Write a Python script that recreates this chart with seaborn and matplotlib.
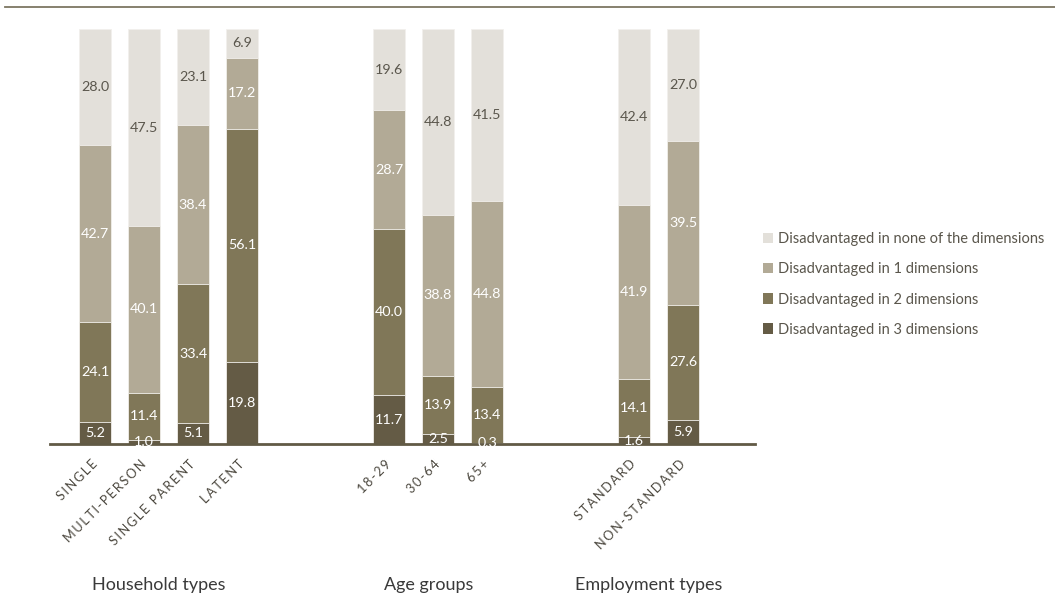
import matplotlib
matplotlib.use("Agg")
import matplotlib.pyplot as plt
import matplotlib.transforms as mtransforms
from matplotlib.patches import Patch
from matplotlib.lines import Line2D
import numpy as np
import seaborn as sns

# Bar categories and their slot positions on the x axis (gaps separate the groups)
categories = ["SINGLE", "MULTI-PERSON", "SINGLE PARENT", "LATENT",
              "18-29", "30-64", "65+", "STANDARD", "NON-STANDARD"]
slots = [0, 1, 2, 3, 6, 7, 8, 11, 12]

groups = ["Household types", "Age groups", "Employment types"]
group_slots = [[0, 1, 2, 3], [6, 7, 8], [11, 12]]

# Shares (%) per bar, stacked from bottom to top
dim3 = [5.2, 1.0, 5.1, 19.8, 11.7, 2.5, 0.3, 1.6, 5.9]
dim2 = [24.1, 11.4, 33.4, 56.1, 40.0, 13.9, 13.4, 14.1, 27.6]
dim1 = [42.7, 40.1, 38.4, 17.2, 28.7, 38.8, 44.8, 41.9, 39.5]
none_ = [28.0, 47.5, 23.1, 6.9, 19.6, 44.8, 41.5, 42.4, 27.0]

series_names = ["Disadvantaged in 3 dimensions",
                "Disadvantaged in 2 dimensions",
                "Disadvantaged in 1 dimensions",
                "Disadvantaged in none of the dimensions"]
series_values = [dim3, dim2, dim1, none_]
colors = ["#645b45", "#807758", "#b2aa96", "#e3e0da"]
text_colors = ["white", "white", "white", "#5a564c"]

FONT = ["Lato", "DejaVu Sans"]
plt.rcParams["font.family"] = FONT

fig = plt.figure(figsize=(10.55, 5.98), dpi=100)
ax = fig.add_axes([50 / 1055, 1 - 444 / 598, 705 / 1055, 415 / 598])

vals = np.array(series_values)
tops = vals.cumsum(axis=0)
bottoms = tops - vals

# Overlay cumulative bars, tallest first, so each segment shows its own colour
for i in range(len(series_values) - 1, -1, -1):
    sns.barplot(x=slots, y=tops[i], native_scale=True, width=32 / 49,
                color=colors[i], saturation=1, edgecolor="#f2f0ec",
                linewidth=0.6, errorbar=None, ax=ax)

# Value labels centred in each segment
for i in range(len(series_values)):
    for j, s in enumerate(slots):
        v = vals[i, j]
        ax.text(s, bottoms[i, j] + v / 2, f"{v:.1f}", ha="center", va="center",
                fontsize=10.3, color=text_colors[i])

ax.set_xlim(-0.92, 13.47)
ax.set_ylim(0, 100)
for side in ["top", "right", "left"]:
    ax.spines[side].set_visible(False)
ax.spines["bottom"].set_color("#615a45")
ax.spines["bottom"].set_linewidth(2)
ax.set_yticks([])
ax.set_ylabel("")

spaced = ["\u2009".join(c) for c in categories]
ax.set_xticks(slots)
ax.set_xticklabels(spaced, rotation=45, ha="right", va="center",
                   rotation_mode="anchor", fontsize=9.2, color="#4d4940")
ax.tick_params(axis="x", length=0, pad=13)

# Group captions under the tick labels
trans = mtransforms.blended_transform_factory(ax.transData, fig.transFigure)
for name, members in zip(groups, group_slots):
    ax.text(np.mean(members) - 0.2, 1 - 585 / 598, name, transform=trans,
            ha="center", va="center", fontsize=13, color="#3a3a3a")

# Rule across the top of the figure
fig.add_artist(Line2D([5 / 1055, 1.0], [1 - 6.5 / 598] * 2,
                      transform=fig.transFigure, color="#7d7662", lw=1.3))

handles = [Patch(facecolor=colors[i], edgecolor="none") for i in range(3, -1, -1)]
labels = [series_names[i] for i in range(3, -1, -1)]
leg = fig.legend(handles, labels, loc="center left",
                 bbox_to_anchor=(763 / 1055, 1 - 284.5 / 598),
                 frameon=False, fontsize=10.5, handlelength=0.7,
                 handleheight=0.7, handletextpad=0.3, labelspacing=1.1,
                 borderpad=0, borderaxespad=0)
for t in leg.get_texts():
    t.set_color("#5a564c")

fig.savefig("out.png", dpi=100)
